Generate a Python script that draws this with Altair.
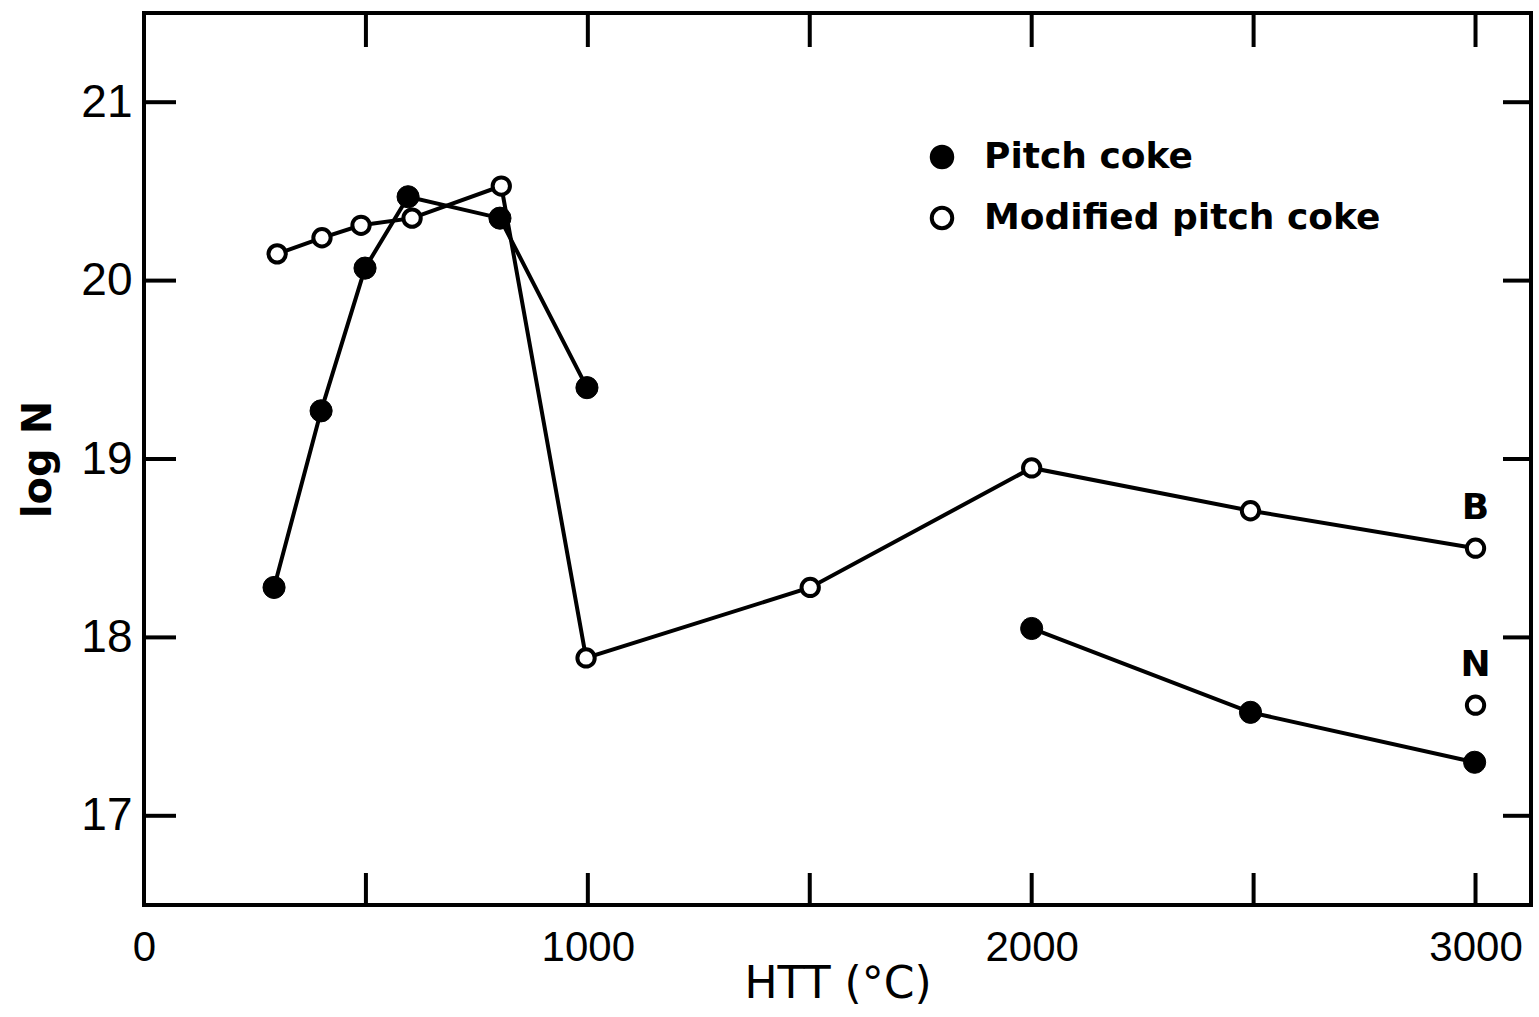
import altair as alt
import pandas as pd

# ---- data ----
pc_htt = [293, 399, 498, 595, 802, 998, 2000, 2493, 2998]
pc_logn = [18.28, 19.27, 20.07, 20.47, 20.35, 19.40, 18.05, 17.58, 17.30]
pc_seg = [1, 1, 1, 1, 1, 1, 2, 2, 2]

mp_htt = [300, 401, 489, 604, 805, 996, 1501, 2000, 2493, 3000]
mp_logn = [20.15, 20.24, 20.31, 20.35, 20.53, 17.885, 18.28, 18.95, 18.71, 18.50]

n_htt = [3000]
n_logn = [17.62]

lbl_text = ["B", "N"]
lbl_htt = [3000, 3000]
lbl_logn = [18.50, 17.62]

series_names = ["Pitch coke", "Modified pitch coke"]
x_label_vals = [0, 1000, 2000, 3000]
x_tick_vals = [500, 1000, 1500, 2000, 2500, 3000]
y_tick_vals = [17, 18, 19, 20, 21]

W, H = 1387, 892
FONT = "Liberation Sans"
WIDE = "DejaVu Sans"

pc = pd.DataFrame({"htt": pc_htt, "logN": pc_logn, "seg": pc_seg, "series": series_names[0]})
mp = pd.DataFrame({"htt": mp_htt, "logN": mp_logn, "series": series_names[1]})
mp_pts = pd.concat([mp, pd.DataFrame({"htt": n_htt, "logN": n_logn, "series": series_names[1]})])
lbl = pd.DataFrame({"htt": lbl_htt, "logN": lbl_logn, "text": lbl_text})
xt = pd.DataFrame({"htt": x_tick_vals})
yt = pd.DataFrame({"logN": y_tick_vals})

xs = alt.Scale(domain=[0, 3125], nice=False, zero=False)
ys = alt.Scale(domain=[16.5, 21.5], nice=False, zero=False)
xaxis = alt.Axis(values=x_label_vals, format="d", title="HTT (°C)", labelPadding=22,
                 labelFontSize=42, titlePadding=-6, titleFontSize=44, titleFont=WIDE,
                 titleFontWeight="normal", labelFlush=False)
yaxis = alt.Axis(values=y_tick_vals, format="d", title="log N", labelPadding=12,
                 labelFontSize=46, titlePadding=22, titleFontSize=40, titleFont=WIDE,
                 titleFontWeight="bold")


def X():
    return alt.X("htt:Q", scale=xs, axis=xaxis)


def Y():
    return alt.Y("logN:Q", scale=ys, axis=yaxis)


fill_scale = alt.Scale(domain=series_names, range=["black", "white"])
legend = alt.Legend(title=None, orient="none", legendX=780, legendY=126, labelFontSize=36,
                    labelFont=WIDE, labelFontWeight="bold", labelColor="black", labelLimit=0,
                    symbolSize=420, symbolType="circle", symbolStrokeColor="black",
                    symbolStrokeWidth=4, symbolOpacity=1, rowPadding=23, labelOffset=24,
                    padding=0)

pc_line = alt.Chart(pc).mark_line(color="black", strokeWidth=4).encode(
    x=X(), y=Y(), detail="seg:N")
mp_line = alt.Chart(mp).mark_line(color="black", strokeWidth=4).encode(x=X(), y=Y())

pc_points = alt.Chart(pc).mark_point(filled=True, size=490, stroke="black", strokeWidth=1,
                                     opacity=1, shape="circle").encode(
    x=X(), y=Y(), fill=alt.Fill("series:N", scale=fill_scale, legend=legend))
mp_points = alt.Chart(mp_pts).mark_point(filled=True, size=300, stroke="black", strokeWidth=4,
                                         opacity=1, shape="circle").encode(
    x=X(), y=Y(), fill=alt.Fill("series:N", scale=fill_scale, legend=legend))

labels = alt.Chart(lbl).mark_text(dy=-40, fontSize=36, fontWeight="bold", font=WIDE,
                                  color="black").encode(x=X(), y=Y(), text="text:N")

tick_top = alt.Chart(xt).mark_rule(color="black", strokeWidth=4).encode(
    x=X(), y=alt.value(0), y2=alt.value(34))
tick_bot = alt.Chart(xt).mark_rule(color="black", strokeWidth=4).encode(
    x=X(), y=alt.value(H), y2=alt.value(H - 32))
tick_left = alt.Chart(yt).mark_rule(color="black", strokeWidth=4).encode(
    y=Y(), x=alt.value(0), x2=alt.value(32))
tick_right = alt.Chart(yt).mark_rule(color="black", strokeWidth=4).encode(
    y=Y(), x=alt.value(W), x2=alt.value(W - 28))

chart = alt.layer(
    tick_top, tick_bot, tick_left, tick_right,
    pc_line, mp_line, pc_points, mp_points, labels
).properties(
    width=W, height=H,
    autosize=alt.AutoSizeParams(type="none"),
    padding={"left": 144, "top": 13, "right": 8, "bottom": 112},
    background="white",
).configure_view(
    stroke="black", strokeWidth=4
).configure_axis(
    labelFont=FONT, titleFont=FONT, labelColor="black", titleColor="black",
    domain=False, ticks=False, tickSize=0, grid=False
)

chart.save("out.html", embed_options={"renderer": "svg", "actions": False})
